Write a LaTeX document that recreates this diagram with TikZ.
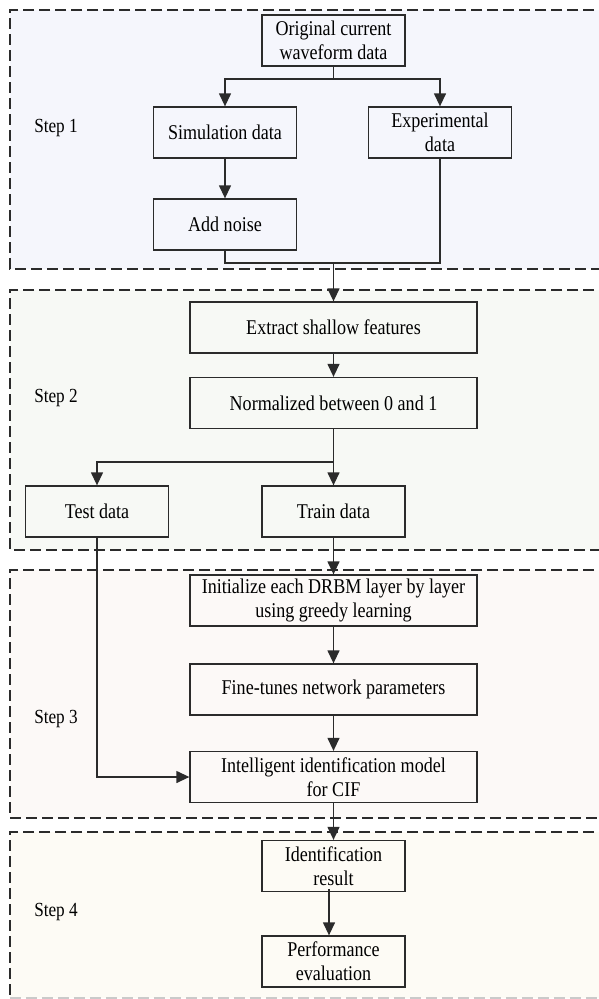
\documentclass[tikz,border=0pt]{standalone}
\usepackage{fontspec}
\setmainfont{Liberation Serif}[FakeStretch=0.86]
\usetikzlibrary{arrows.meta}
\definecolor{linec}{HTML}{2B2B2B}
\definecolor{stepa}{HTML}{F5F6FC}
\definecolor{stepb}{HTML}{F7F9F5}
\definecolor{stepc}{HTML}{FCF9F7}
\definecolor{stepd}{HTML}{FDFBF5}
\tikzset{
  frame/.style={draw=linec, line width=1.3pt, dash pattern=on 11pt off 5pt},
  box/.style={draw=linec, line width=1.3pt, minimum height=51pt, inner sep=0pt,
    align=center, font=\fontsize{21}{24}\selectfont},
  smallbox/.style={box, minimum width=143pt},
  widebox/.style={box, minimum width=287pt},
  steplabel/.style={font=\fontsize{20}{22}\selectfont, inner sep=0pt},
  conn/.style={draw=linec, line width=1.3pt},
  arr/.style={conn, -{Triangle[width=12pt,length=13pt]}}
}
\begin{document}
\begin{tikzpicture}[x=1pt,y=-1pt]
\useasboundingbox (0,0) rectangle (598,999);
\fill[white] (0,0) rectangle (598,999);

% step frames
\fill[stepa] (10,10) rectangle (610,269);
\draw[frame] (610,10) -- (10,10) -- (10,269) -- (610,269);
\fill[stepb] (10,290) rectangle (610,550);
\draw[frame] (610,290) -- (10,290) -- (10,550) -- (610,550);
\fill[stepc] (10,570) rectangle (610,818);
\draw[frame] (610,570) -- (10,570) -- (10,818) -- (610,818);
\fill[stepd] (10,832) rectangle (610,998);
\draw[frame] (610,832) -- (10,832) -- (10,998);
\draw[frame, draw=linec!25] (10,998) -- (610,998);

% step labels
\node[steplabel] (s1) at (56,128) {Step 1};
\node[steplabel] (s2) at (56,398) {Step 2};
\node[steplabel] (s3) at (56,719) {Step 3};
\node[steplabel] (s4) at (56,912) {Step 4};

% step 1
\node[smallbox] (orig) at (333.5,40.5) {Original current\\waveform data};
\node[smallbox] (sim) at (225,132.5) {Simulation data};
\node[smallbox] (exp) at (440,132.5) {Experimental\\data};
\node[smallbox] (noise) at (225,224.5) {Add noise};

% step 2
\node[widebox] (extract) at (333.5,327.5) {Extract shallow features};
\node[widebox] (norm) at (333.5,403) {Normalized between 0 and 1};
\node[smallbox] (test) at (97,511.5) {Test data};
\node[smallbox] (train) at (333.5,511.5) {Train data};

% step 3
\node[widebox] (init) at (333.5,600.5) {Initialize each DRBM layer by layer\\using greedy learning};
\node[widebox] (fine) at (333.5,689.5) {Fine-tunes network parameters};
\node[widebox] (intel) at (333.5,777) {Intelligent identification model\\for CIF};

% step 4
\node[smallbox] (ident) at (333.5,866) {Identification\\result};
\node[smallbox] (perf) at (333.5,961.5) {Performance\\evaluation};

% junctions
\coordinate (j1) at (333.5,79);
\coordinate (j2) at (333.5,263);
\coordinate (j3) at (333.5,462);

% connectors
\draw[conn] (orig.south) -- (j1);
\draw[arr] (j1) -| (sim.north);
\draw[arr] (j1) -| (exp.north);
\draw[arr] (sim.south) -- (noise.north);
\draw[conn] (noise.south) |- (j2) -| (exp.south);
\draw[arr] (j2) -- (extract.north);
\draw[arr] (extract.south) -- (norm.north);
\draw[conn] (norm.south) -- (j3);
\draw[arr] (j3) -| (test.north);
\draw[arr] (j3) -- (train.north);
\draw[arr] (train.south) -- (init.north);
\draw[arr] (init.south) -- (fine.north);
\draw[arr] (fine.south) -- (intel.north);
\draw[arr] (test.south) |- (intel.west);
\draw[arr] (intel.south) -- (ident.north);
\draw[arr] ([xshift=-4.5pt,yshift=3pt]ident.south) -- ([xshift=-4.5pt]perf.north);
\end{tikzpicture}
\end{document}
